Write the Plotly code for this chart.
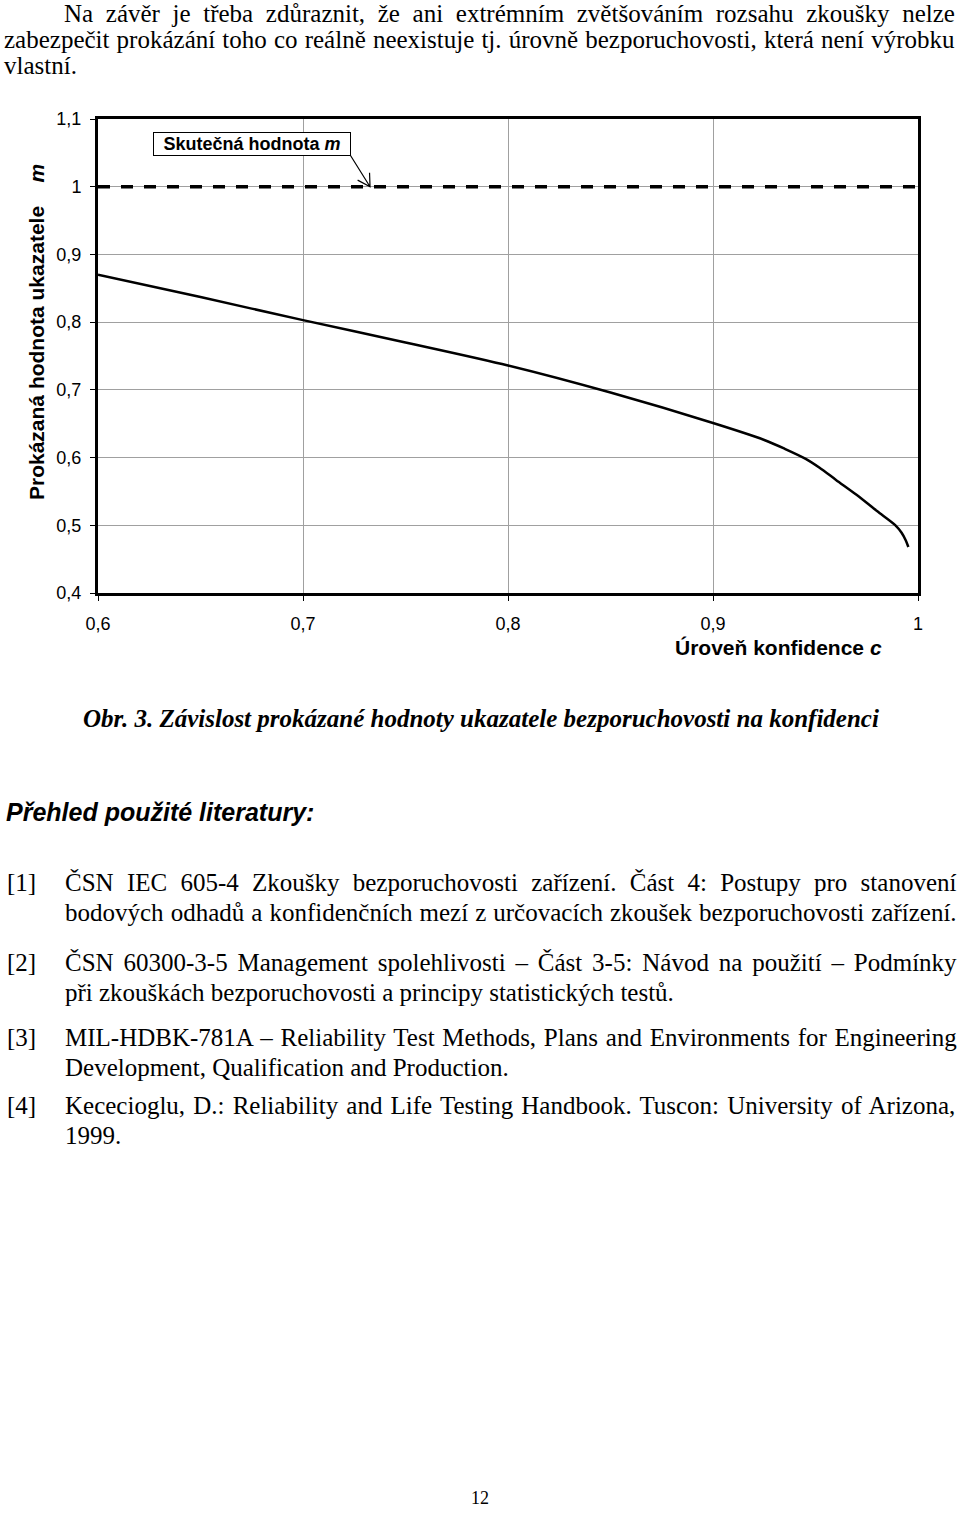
import plotly.graph_objects as go

# ---------------- data ----------------
conf_c = [0.60, 0.65, 0.70, 0.75, 0.80, 0.85, 0.90, 0.925, 0.935, 0.945, 0.952, 0.96, 0.97, 0.98,
          0.989, 0.992, 0.994, 0.9953]
shown_m = [0.870, 0.837, 0.803, 0.770, 0.736, 0.696, 0.651, 0.626, 0.613, 0.5985, 0.585, 0.567, 0.545, 0.521,
           0.500, 0.489, 0.478, 0.468]
true_c = [0.60, 1.00]
true_m = [1.0, 1.0]
x_ticks = [0.6, 0.7, 0.8, 0.9, 1.0]
y_ticks = [0.4, 0.5, 0.6, 0.7, 0.8, 0.9, 1.0, 1.1]
arrow_tip = (0.7327, 1.0)

para_lines = [
    "Na závěr je třeba zdůraznit, že ani extrémním zvětšováním rozsahu zkoušky nelze",
    "zabezpečit prokázání toho co reálně neexistuje tj. úrovně bezporuchovosti, která není výrobku",
    "vlastní.",
]
caption = "Obr. 3. Závislost prokázané hodnoty ukazatele bezporuchovosti na konfidenci"
heading = "Přehled použité literatury:"
refs = [
    ("[1]", ["ČSN IEC 605-4 Zkoušky bezporuchovosti zařízení. Část 4: Postupy pro stanovení",
             "bodových odhadů a konfidenčních mezí z určovacích zkoušek bezporuchovosti zařízení."]),
    ("[2]", ["ČSN 60300-3-5 Management spolehlivosti – Část 3-5: Návod na použití – Podmínky",
             "při zkouškách bezporuchovosti a principy statistických testů."]),
    ("[3]", ["MIL-HDBK-781A – Reliability Test Methods, Plans and Environments for Engineering",
             "Development, Qualification and Production."]),
    ("[4]", ["Kececioglu, D.: Reliability and Life Testing Handbook. Tuscon: University of Arizona,",
             "1999."]),
]
page_no = "12"

# ---------------- layout geometry ----------------
W, H = 960, 1513
ML, MR, MT, MB = 98, 42, 119, 920
PW, PH = W - ML - MR, H - MT - MB


def px(x):
    return (x - ML) / PW


def py(y):
    return (H - MB - y) / PH


SERIF = "Liberation Serif, Times New Roman, serif"
SANS = "Liberation Sans, Arial, sans-serif"
BODY = 25


def spaced(t, ws):
    if ws <= 0:
        return t
    return '<span style="word-spacing:%.1fpx">%s</span>' % (ws, t)


fig = go.Figure()
fig.add_trace(go.Scatter(x=true_c, y=true_m, mode="lines",
                         line=dict(color="black", width=3.5, dash="12px,11px"),
                         hoverinfo="skip", showlegend=False))
fig.add_trace(go.Scatter(x=conf_c, y=shown_m, mode="lines",
                         line=dict(color="black", width=2.5, shape="spline", smoothing=0.8),
                         showlegend=False))

annotations = []
# body paragraph
para_x = [62, 2, 2]
para_y = [14, 40, 65]
para_ws = [6.4, 0.9, 0]
for t, xx, yy, ws in zip(para_lines, para_x, para_y, para_ws):
    annotations.append(dict(text=spaced(t, ws), x=px(xx), y=py(yy), xref="paper", yref="paper",
                            xanchor="left", yanchor="middle", showarrow=False,
                            font=dict(family=SERIF, size=BODY, color="black")))
# caption
annotations.append(dict(text="<b><i>" + caption + "</i></b>", x=px(481), y=py(718),
                        xref="paper", yref="paper", xanchor="center", yanchor="middle",
                        showarrow=False, font=dict(family=SERIF, size=25, color="black")))
# heading
annotations.append(dict(text="<b><i>" + heading + "</i></b>", x=px(4), y=py(812),
                        xref="paper", yref="paper", xanchor="left", yanchor="middle",
                        showarrow=False, font=dict(family=SANS, size=25, color="black")))
# references
ref_y = [(882, 912), (962, 992), (1037, 1067), (1105, 1135)]
ref_ws = [(7.0, 0.8), (3.6, 0), (1.5, 0), (1.9, 0)]
for (lab, lines), ys, wss in zip(refs, ref_y, ref_ws):
    annotations.append(dict(text=lab, x=px(5), y=py(ys[0]), xref="paper", yref="paper",
                            xanchor="left", yanchor="middle", showarrow=False,
                            font=dict(family=SERIF, size=BODY, color="black")))
    for t, yy, ws in zip(lines, ys, wss):
        annotations.append(dict(text=spaced(t, ws), x=px(63), y=py(yy), xref="paper", yref="paper",
                                xanchor="left", yanchor="middle", showarrow=False,
                                font=dict(family=SERIF, size=BODY, color="black")))
annotations.append(dict(text=page_no, x=px(480), y=py(1498), xref="paper", yref="paper",
                        xanchor="center", yanchor="middle", showarrow=False,
                        font=dict(family=SERIF, size=18, color="black")))

# axis titles
annotations.append(dict(text="<b>Prokázaná hodnota ukazatele\u00a0\u00a0\u00a0\u00a0<i>m</i></b>",
                        x=px(36), y=py(332), xref="paper", yref="paper", textangle=-90,
                        xanchor="center", yanchor="middle", showarrow=False,
                        font=dict(family=SANS, size=21, color="black")))
annotations.append(dict(text="<b>Úroveň konfidence <i>c</i></b>",
                        x=px(778), y=py(647), xref="paper", yref="paper",
                        xanchor="center", yanchor="middle", showarrow=False,
                        font=dict(family=SANS, size=21, color="black")))
# label box
annotations.append(dict(text="<b>Skutečná hodnota <i>m</i></b>",
                        x=px(252), y=py(143.5), xref="paper", yref="paper",
                        xanchor="center", yanchor="middle", showarrow=False,
                        width=194, height=20, borderpad=1,
                        bordercolor="black", borderwidth=1, bgcolor="white",
                        font=dict(family=SANS, size=18, color="black")))

shapes = [dict(type="path", xref="x", yref="y", xsizemode="pixel", ysizemode="pixel",
               xanchor=arrow_tip[0], yanchor=arrow_tip[1],
               path="M 0,0 L -20,32 M -12.4,6.6 L 0,0 L -0.5,14",
               line=dict(color="black", width=1.2))]

fig.update_layout(
    width=W, height=H,
    margin=dict(l=ML, r=MR, t=MT, b=MB, pad=0),
    paper_bgcolor="white", plot_bgcolor="white",
    separators=", ",
    showlegend=False,
    annotations=annotations,
    shapes=shapes,
    xaxis=dict(range=[0.6, 1.0], tickvals=x_ticks, showgrid=True, gridcolor="#a0a0a0",
               gridwidth=1, zeroline=False, showline=True, linecolor="black", linewidth=3,
               mirror=True, ticks="outside", ticklen=5, tickwidth=1, tickcolor="black",
               ticklabelstandoff=7,
               tickfont=dict(family=SANS, size=18, color="black")),
    yaxis=dict(range=[0.4, 1.1], tickvals=y_ticks, showgrid=True, gridcolor="#a0a0a0",
               gridwidth=1, zeroline=False, showline=True, linecolor="black", linewidth=3,
               mirror=True, ticks="outside", ticklen=5, tickwidth=1, tickcolor="black",
               ticklabelstandoff=5,
               tickfont=dict(family=SANS, size=18, color="black")),
)

fig.write_html("out.html")
